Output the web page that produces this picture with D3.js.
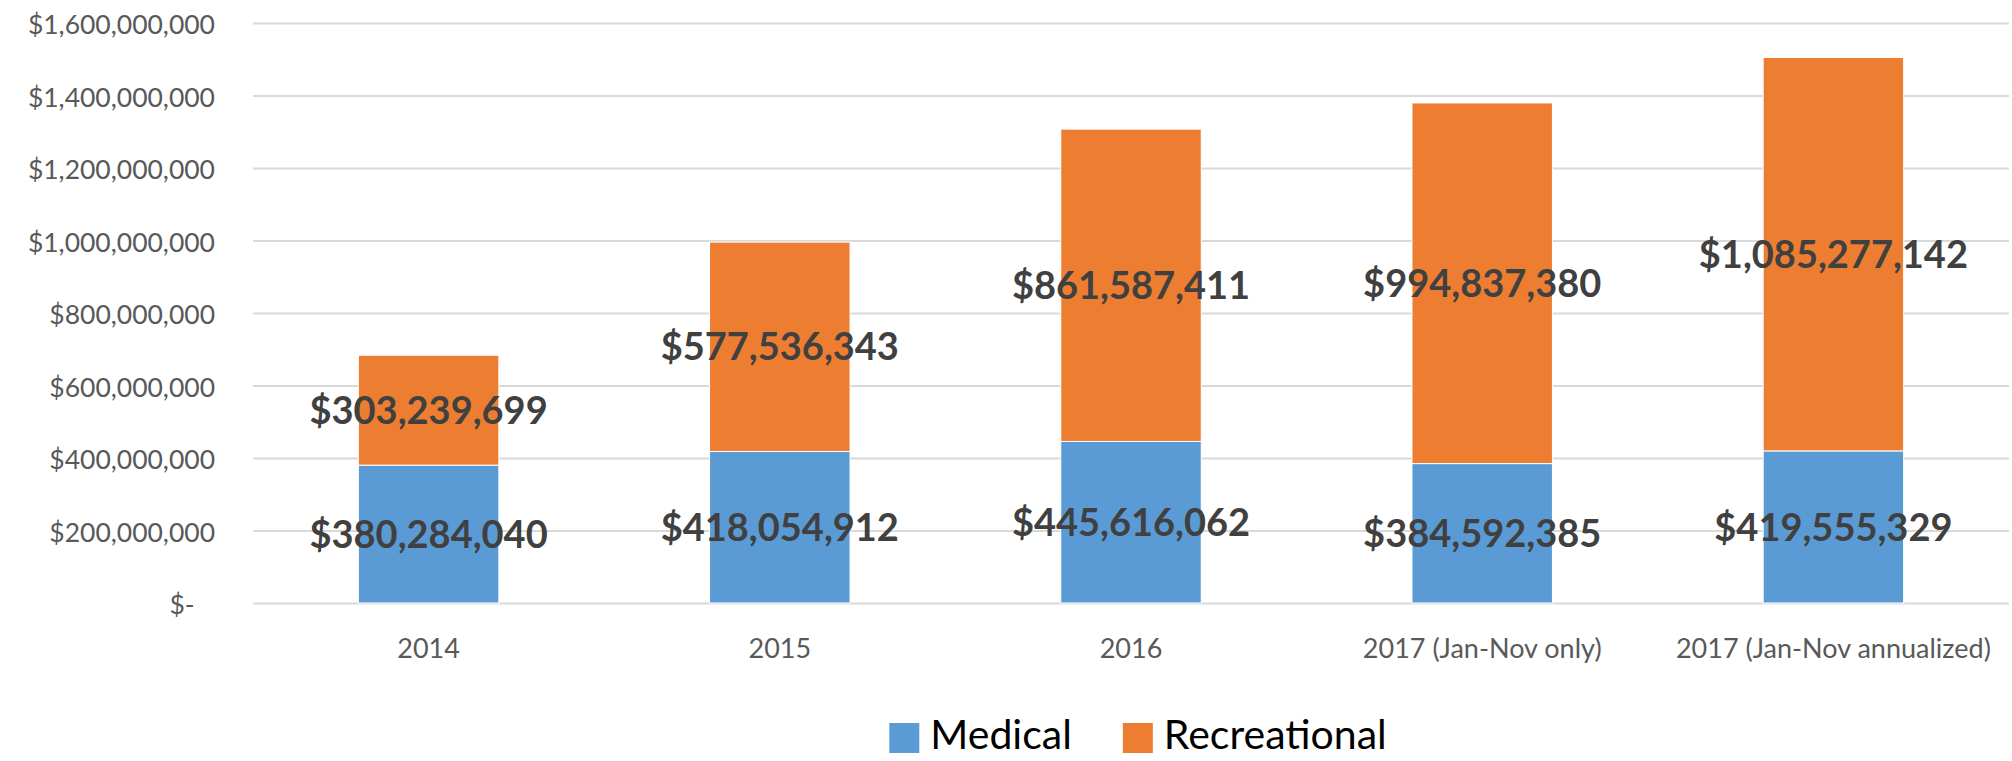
<!DOCTYPE html>
<html>
<head>
<meta charset="utf-8">
<script src="https://cdn.jsdelivr.net/npm/d3@7"></script>
<style>
  body { margin: 0; background: #fff; }
  svg { display: block; font-family: Lato, "Open Sans", sans-serif; }
</style>
</head>
<body>
<svg id="chart" width="2012" height="761"></svg>
<script>
// categories along the x axis
var categories = ["2014", "2015", "2016", "2017 (Jan-Nov only)", "2017 (Jan-Nov annualized)"];
// series values (dollars)
var medical = [380284040, 418054912, 445616062, 384592385, 419555329];
var recreational = [303239699, 577536343, 861587411, 994837380, 1085277142];
var seriesNames = ["Medical", "Recreational"];
var seriesColors = ["#5b9bd5", "#ed7d31"];
// y axis ticks
var yTicks = [0, 200000000, 400000000, 600000000, 800000000, 1000000000, 1200000000, 1400000000, 1600000000];

var margin = {top: 23, right: 3, bottom: 158, left: 253},
	W = 2012, H = 761,
	w = W - margin.left - margin.right,
	h = H - margin.top - margin.bottom;

var svg = d3.select("#chart");
var g = svg.append("g")
	.attr("transform", "translate(" + margin.left + "," + margin.top + ")");

var x = d3.scaleBand()
	.domain(categories)
	.range([0, w])
	.paddingInner(0.6)
	.paddingOuter(0.3);

var y = d3.scaleLinear()
	.domain([0, 1600000000])
	.range([h, 0]);

var money = d3.format("$,");
var fontFam = "Lato, 'Open Sans', sans-serif";

// grid + y labels
var yAxis = g.append("g")
	.call(d3.axisLeft(y)
		.tickValues(yTicks)
		.tickSize(-w)
		.tickPadding(38)
		.tickFormat(function(d) { return d === 0 ? "$-\u00A0\u00A0\u00A0" : money(d); }));
yAxis.attr("font-family", fontFam).attr("font-size", 26.5);
yAxis.select(".domain").remove();
yAxis.selectAll("line").attr("stroke", "#d9d9d9").attr("stroke-width", 2);
yAxis.selectAll("text")
	.attr("fill", "#595959")
	.attr("dy", "0.4em");

// x labels
var xAxis = g.append("g")
	.attr("transform", "translate(0," + h + ")")
	.call(d3.axisBottom(x).tickSize(0).tickPadding(0));
xAxis.attr("font-family", fontFam).attr("font-size", 27);
xAxis.select(".domain").remove();
xAxis.selectAll("text")
	.attr("fill", "#595959")
	.attr("y", 45)
	.attr("dy", "0.36em");

// stacked data
var rows = categories.map(function(c, i) {
	return {cat: c, Medical: medical[i], Recreational: recreational[i]};
});
var stack = d3.stack().keys(seriesNames)(rows);

var layers = g.selectAll(".layer")
	.data(stack)
	.enter().append("g")
	.attr("class", "layer")
	.attr("fill", function(d, i) { return seriesColors[i]; });

layers.selectAll("rect")
	.data(function(d) { return d; })
	.enter().append("rect")
	.attr("x", function(d) { return x(d.data.cat); })
	.attr("width", x.bandwidth())
	.attr("y", function(d) { return y(d[1]); })
	.attr("height", function(d) { return y(d[0]) - y(d[1]); })
	.attr("stroke", "#fff")
	.attr("stroke-width", 1);

// data labels
layers.selectAll("text")
	.data(function(d) { return d; })
	.enter().append("text")
	.attr("x", function(d) { return x(d.data.cat) + x.bandwidth() / 2; })
	.attr("y", function(d) { return (y(d[0]) + y(d[1])) / 2; })
	.attr("dy", "0.36em")
	.attr("text-anchor", "middle")
	.attr("font-size", 38)
	.attr("font-weight", "bold")
	.attr("fill", "#404040")
	.text(function(d) { return money(d[1] - d[0]); });

// legend
var legend = svg.append("g").attr("transform", "translate(0,733)");
var items = legend.selectAll("g")
	.data(seriesNames)
	.enter().append("g");
items.append("rect")
	.attr("width", 30).attr("height", 30)
	.attr("y", -10)
	.attr("fill", function(d, i) { return seriesColors[i]; });
items.append("text")
	.attr("x", 41)
	.attr("dy", "0.38em")
	.attr("font-size", 41)
	.attr("fill", "#000")
	.text(function(d) { return d; });

var offs = [], tot = 0;
items.each(function(d, i) {
	var tw = d3.select(this).select("text").node().getComputedTextLength();
	offs.push(tot);
	tot += 41 + tw + (i < seriesNames.length - 1 ? 51 : 0);
});
var lx = 1138 - tot / 2;
items.attr("transform", function(d, i) { return "translate(" + (lx + offs[i]) + ",0)"; });
</script>
</body>
</html>
